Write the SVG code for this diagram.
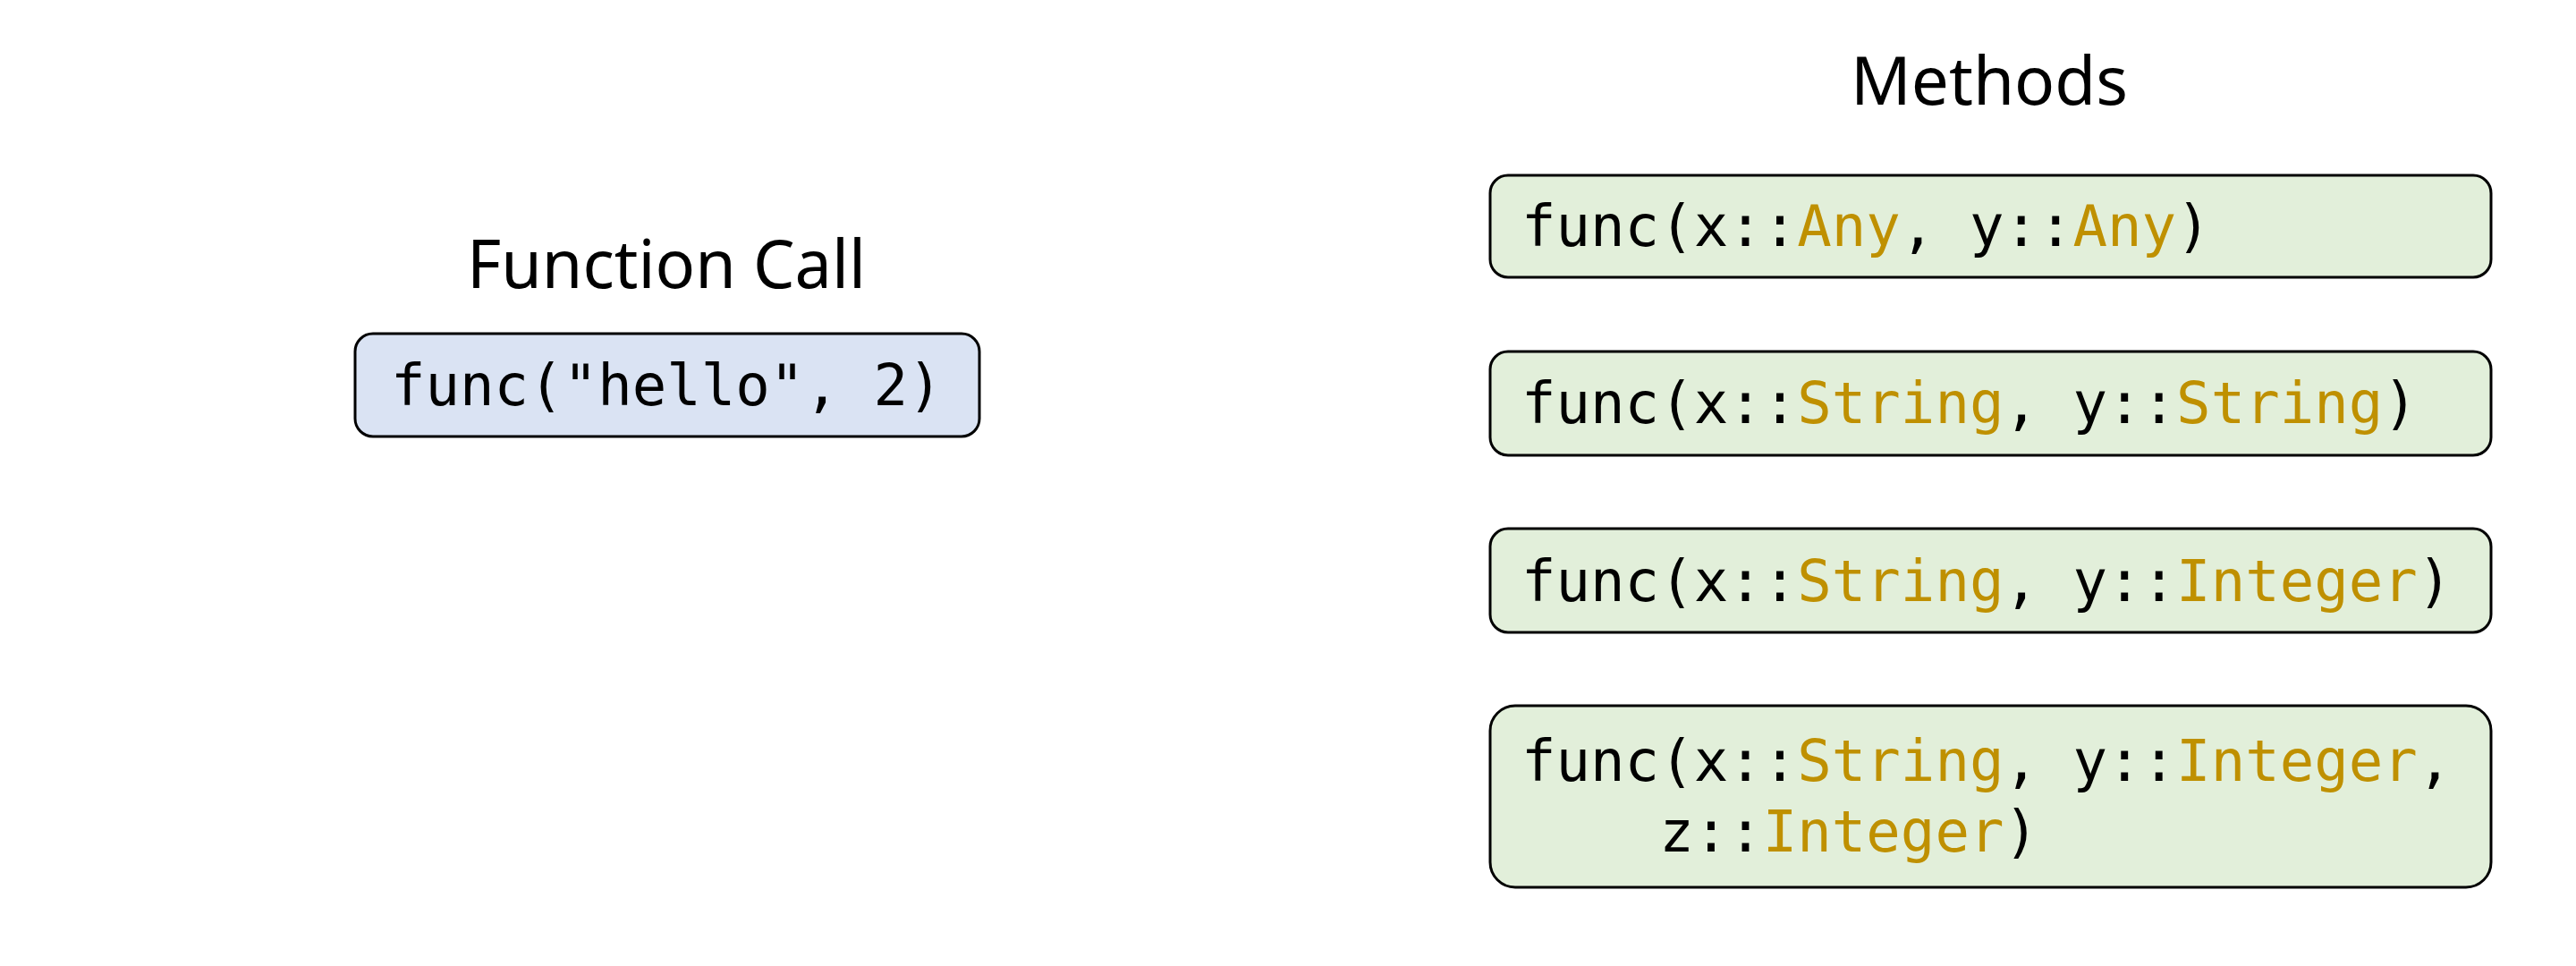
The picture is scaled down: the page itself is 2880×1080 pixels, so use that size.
<svg xmlns="http://www.w3.org/2000/svg" width="2880" height="1080" viewBox="0 0 2880 1080">
<style>
.title{font-family:"Noto Sans","Open Sans",sans-serif;font-size:74px;fill:#000;text-anchor:middle}
.code{font-family:"DejaVu Sans Mono",monospace;font-size:64px;fill:#000;white-space:pre}
.t{fill:#bf9000}
.call{fill:#dae3f3;stroke:#000;stroke-width:3}
.meth{fill:#e2efda;stroke:#000;stroke-width:3}
</style>
<rect width="2880" height="1080" fill="#fff"/>
<text class="title" x="745" y="322" textLength="446" lengthAdjust="spacingAndGlyphs">Function Call</text>
<text class="title" x="2224" y="117" textLength="310" lengthAdjust="spacingAndGlyphs">Methods</text>
<g id="call">
<rect class="call" x="397" y="373" width="698" height="115" rx="20"/>
<text class="code" x="437" y="453">func("hello", 2)</text>
</g>
<g id="m1">
<rect class="meth" x="1666" y="196" width="1119" height="114" rx="20"/>
<text class="code" x="1701" y="275" xml:space="preserve">func(x::<tspan class="t">Any</tspan>, y::<tspan class="t">Any</tspan>)</text>
</g>
<g id="m2">
<rect class="meth" x="1666" y="393" width="1119" height="116" rx="20"/>
<text class="code" x="1701" y="473" xml:space="preserve">func(x::<tspan class="t">String</tspan>, y::<tspan class="t">String</tspan>)</text>
</g>
<g id="m3">
<rect class="meth" x="1666" y="591" width="1119" height="116" rx="20"/>
<text class="code" x="1701" y="672" xml:space="preserve">func(x::<tspan class="t">String</tspan>, y::<tspan class="t">Integer</tspan>)</text>
</g>
<g id="m4">
<rect class="meth" x="1666" y="789" width="1119" height="203" rx="28"/>
<text class="code" x="1701" y="873" xml:space="preserve">func(x::<tspan class="t">String</tspan>, y::<tspan class="t">Integer</tspan>,</text>
<text class="code" x="1701" y="952" xml:space="preserve">    z::<tspan class="t">Integer</tspan>)</text>
</g>
<g id="connectors"/>
</svg>
